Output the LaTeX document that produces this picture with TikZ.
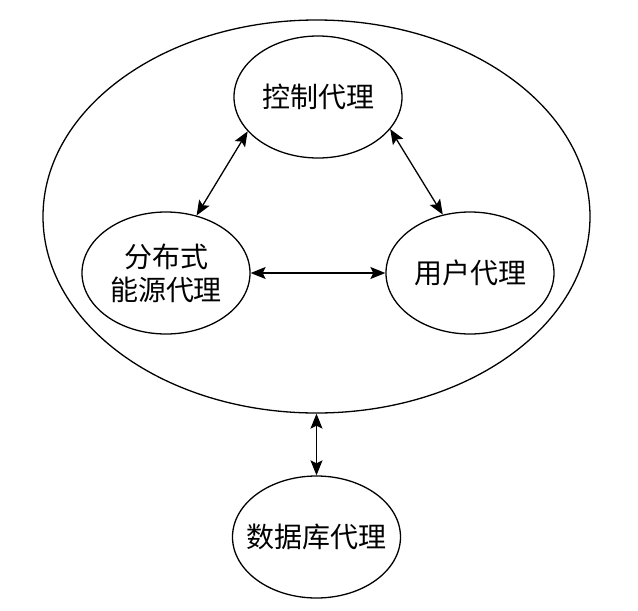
\documentclass[tikz,border=0pt]{standalone}
\usepackage{fontspec}
\usepackage{tikz}
\usetikzlibrary{arrows.meta,shapes.geometric,positioning}
\newfontfamily\cjk{Noto Sans CJK SC}

\begin{document}
\begin{tikzpicture}[x=1pt,y=-1pt,>={Stealth[length=15pt,width=12pt,inset=3pt]},
  agent/.style={draw,ellipse,line width=1.3pt,inner sep=0pt,inner xsep=-22pt,minimum width=168pt,minimum height=122pt,align=center,font=\cjk\fontsize{28}{33}\selectfont},
  link/.style={<->,line width=1.3pt}]
\useasboundingbox (0,0) rectangle (638,611);
\node[draw,ellipse,line width=1.3pt,minimum width=547pt,minimum height=393pt](sys) at (316.5,216.5){};
\node[agent](ctrl) at (318,97){控制代理};
\node[agent](der) at (166,273){分布式\\能源代理};
\node[agent](user) at (470,273){用户代理};
\node[agent](db) at (316.5,537){数据库代理};
\draw[link](ctrl.206)--(der.62); \draw[link](ctrl.-24)--(user.115);
\draw[link](der)--(user); \draw[link](sys.south)--(db.north);
\end{tikzpicture}
\end{document}
